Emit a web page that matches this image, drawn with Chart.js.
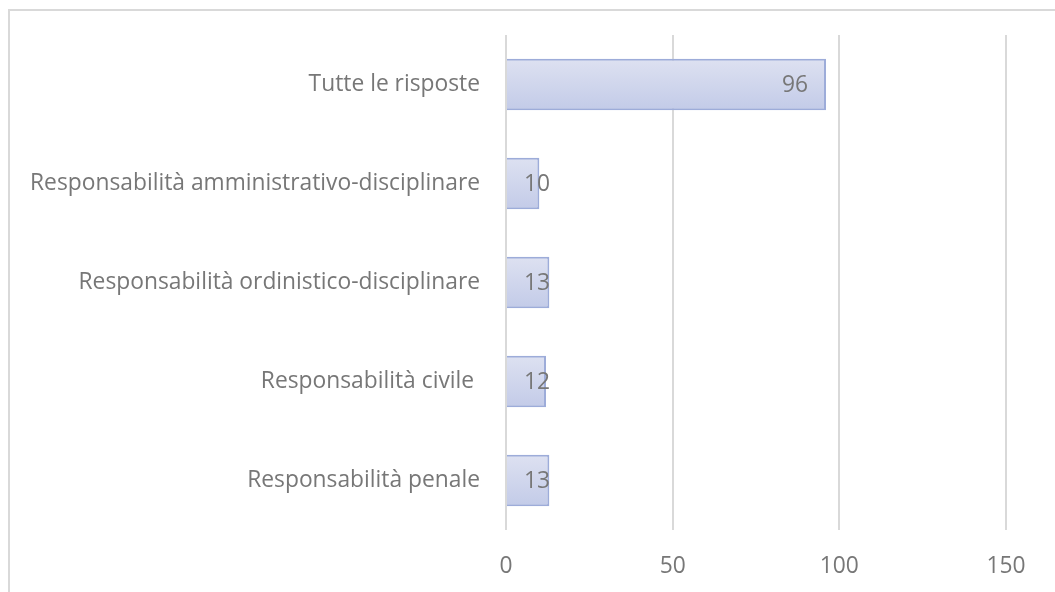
<!DOCTYPE html>
<html><head><meta charset="utf-8">
<script src="https://cdn.jsdelivr.net/npm/chart.js@4/dist/chart.umd.min.js"></script>
<style>
html,body{margin:0;padding:0;background:#fff;overflow:hidden;}
#frame{position:absolute;left:8px;top:9px;width:1200px;height:800px;border:2px solid #d9d9d9;box-sizing:border-box;}
#wrap{position:absolute;left:0;top:0;width:1055px;height:592px;}
</style></head>
<body>
<div id="frame"></div>
<div id="wrap"><canvas id="c" width="1055" height="592"></canvas></div>
<script>
const categories = ["Tutte le risposte","Responsabilità amministrativo-disciplinare","Responsabilità ordinistico-disciplinare","Responsabilità civile ","Responsabilità penale"];
const values = [96,10,13,12,13];
const xTicks = [0,50,100,150];

const FONT = "'Open Sans', 'Noto Sans', sans-serif";
const TXT = "#777777";
const FS = 22.8;

const labelPlugin = {
  id:'vals',
  afterDatasetsDraw(chart){
    const ctx = chart.ctx;
    const meta = chart.getDatasetMeta(0);
    ctx.save();
    ctx.font = FS + "px " + FONT;
    ctx.fillStyle = TXT;
    ctx.textBaseline = "middle";
    ctx.textAlign = "left";
    meta.data.forEach((bar,i)=>{
      const t = String(values[i]);
      const w = ctx.measureText(t).width;
      const x = Math.max(bar.x - 18 - w, bar.base + 17);
      ctx.fillText(t, x, bar.y + 1);
    });
    ctx.restore();
  }
};

function barFill(c){
  const ch = c.chart;
  const ys = ch.scales && ch.scales.y;
  if(!ch.chartArea || !ys) return '#ccd3eb';
  const yc = ys.getPixelForValue(c.dataIndex);
  if(!isFinite(yc)) return '#ccd3eb';
  const h = 51;
  const g = ch.ctx.createLinearGradient(0, yc - h/2, 0, yc + h/2);
  g.addColorStop(0,'#dde1f1'); g.addColorStop(1,'#c3cbe8');
  return g;
}

new Chart(document.getElementById('c'), {
  type:'bar',
  data:{labels:categories, datasets:[{
    data:values,
    backgroundColor:barFill,
    borderColor:'#9dacd9',
    borderWidth:2,
    borderSkipped:'start',
    barPercentage:0.52,
    categoryPercentage:1
  }]},
  options:{
    indexAxis:'y',
    responsive:false,
    animation:false,
    layout:{padding:{left:0,top:35,right:49,bottom:0}},
    plugins:{legend:{display:false},tooltip:{enabled:false}},
    scales:{
      x:{
        min:0,max:150,
        afterBuildTicks:(s)=>{s.ticks = xTicks.map(v=>({value:v}));},
        afterFit:(s)=>{s.height = 62; s.paddingLeft = 0; s.paddingRight = 0;},
        grid:{color:'#d9d9d9',lineWidth:2,drawTicks:false},
        border:{display:false},
        ticks:{padding:23,color:TXT,font:{family:FONT,size:FS}}
      },
      y:{
        afterFit:(s)=>{s.width = 506; s.paddingTop = 0; s.paddingBottom = 0;},
        grid:{display:false,drawTicks:false},
        border:{display:false},
        ticks:{padding:26,color:TXT,font:{family:FONT,size:FS}}
      }
    }
  },
  plugins:[labelPlugin]
});
</script>
</body></html>
